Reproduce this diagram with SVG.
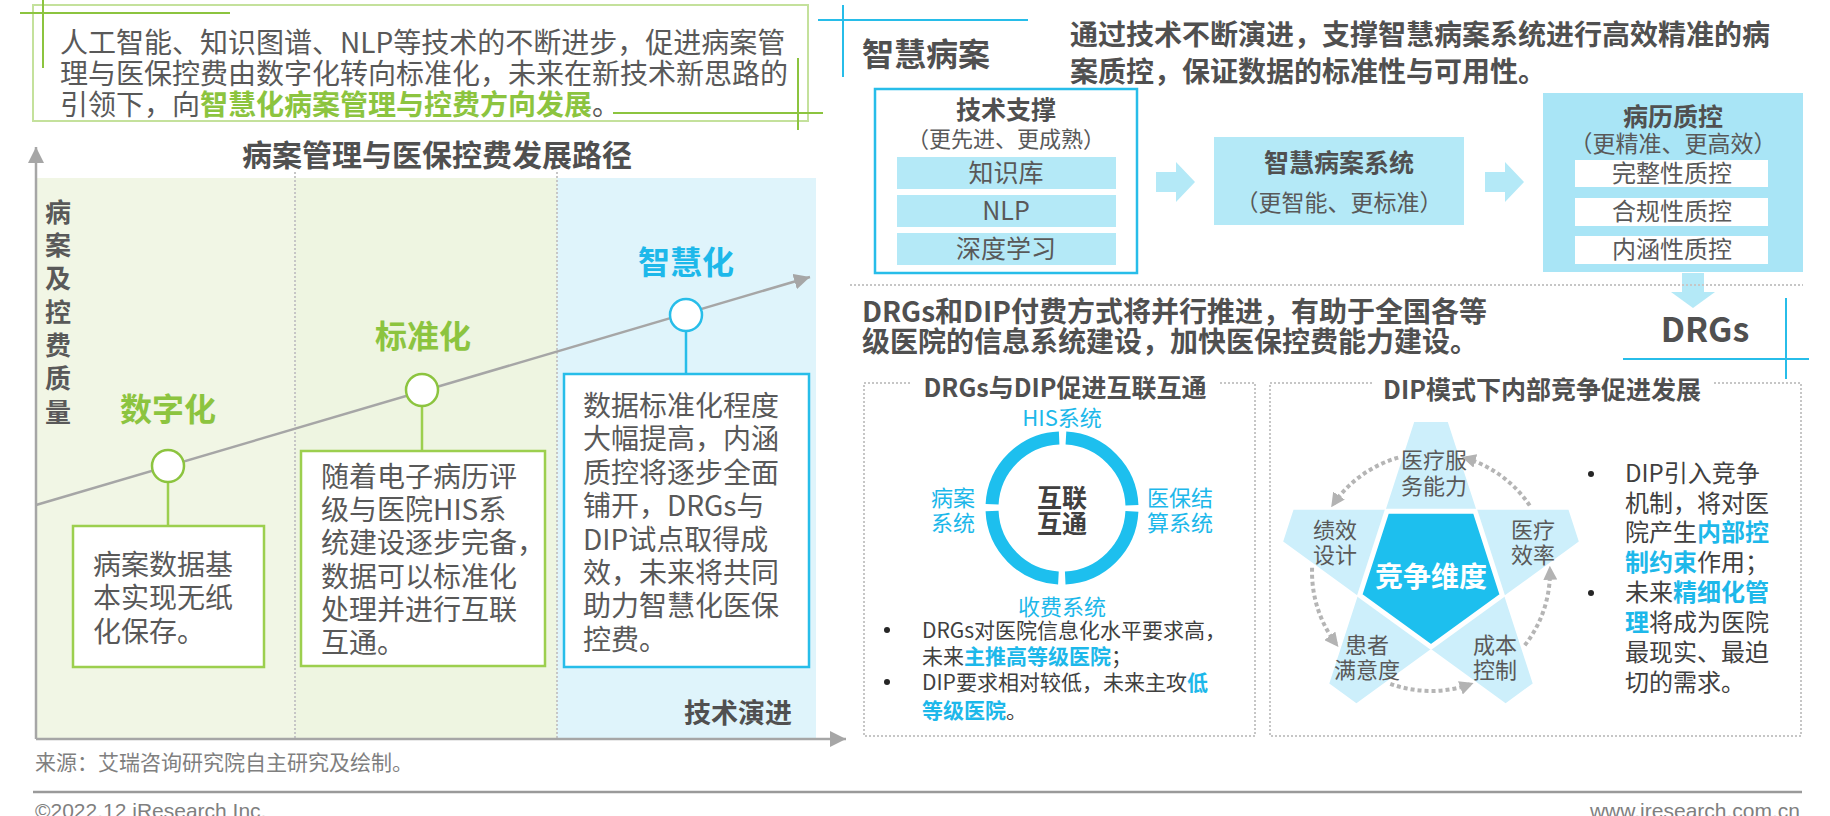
<svg xmlns="http://www.w3.org/2000/svg" width="1830" height="816" viewBox="0 0 1830 816">
<style>
text{font-family:"Noto Sans CJK SC","Noto Sans",sans-serif;fill:#595959}
.b{font-weight:bold}
.hd{font-weight:bold;fill:#505050}
.g{fill:#8cc43f;font-weight:bold}
.bl{fill:#1db8ea}
.blb{fill:#1db8ea;font-weight:bold}
.m{text-anchor:middle}
.dk{fill:#404040}
.gbox{fill:#fff;stroke:#9ccf4e;stroke-width:2.5}
.bbox{fill:#fff;stroke:#27bde9;stroke-width:2.5}
.gline{stroke:#9ccf4e;stroke-width:2.5}
.bline{stroke:#27bde9;stroke-width:2.5}
.lf{fill:#b4e9f7}
.dot{fill:none;stroke:#c6c6c6;stroke-width:2;stroke-dasharray:2 2}
.ax{stroke:#a6a6a6;stroke-width:2.5;fill:none}
.arc{fill:none;stroke:#b5b5b5;stroke-width:4;stroke-dasharray:4 3}
.bul{fill:#262626}
</style>
<defs>
<marker id="ah" viewBox="0 0 16 16" refX="16" refY="8" markerWidth="16" markerHeight="16" markerUnits="userSpaceOnUse" orient="auto"><path d="M0,0L16,8L0,16z" fill="#a6a6a6"/></marker>
<marker id="ad" viewBox="0 0 14 14" refX="12" refY="7" markerWidth="14" markerHeight="14" markerUnits="userSpaceOnUse" orient="auto"><path d="M0,0L14,7L0,14z" fill="#b3b3b3"/></marker>
</defs>
<rect width="1830" height="816" fill="#fff"/>

<!-- intro box -->
<g id="intro">
<rect x="33" y="5" width="775" height="116" fill="#fff" stroke="#c4e19c" stroke-width="2"/>
<line x1="20" y1="13" x2="230" y2="13" stroke="#8cc43f" stroke-width="2"/>
<line x1="43" y1="0" x2="43" y2="68" stroke="#8cc43f" stroke-width="2"/>
<line x1="613" y1="113" x2="823" y2="113" stroke="#8cc43f" stroke-width="2"/>
<line x1="798" y1="58" x2="798" y2="130" stroke="#8cc43f" stroke-width="2"/>
<text x="60" y="53" font-size="28">人工智能、知识图谱、NLP等技术的不断进步，促进病案管</text>
<text x="60" y="84" font-size="28">理与医保控费由数字化转向标准化，未来在新技术新思路的</text>
<text x="60" y="115" font-size="28">引领下，向<tspan class="g">智慧化病案管理与控费方向发展</tspan>。</text>
</g>

<!-- chart background -->
<g id="chart-bg">
<rect x="36" y="178" width="259" height="561" fill="#f1f6e5"/>
<rect x="295" y="178" width="262" height="561" fill="#eef5e1"/>
<rect x="557" y="178" width="259" height="561" fill="#dff4fb"/>
<line x1="295" y1="172" x2="295" y2="739" class="dot"/>
<line x1="557" y1="172" x2="557" y2="739" class="dot"/>
<text x="437" y="166" font-size="30" class="hd m">病案管理与医保控费发展路径</text>
<g class="hd m" font-size="26">
<text x="58" y="222">病</text><text x="58" y="255">案</text><text x="58" y="288">及</text><text x="58" y="322">控</text><text x="58" y="355">费</text><text x="58" y="388">质</text><text x="58" y="422">量</text>
</g>
<text x="792" y="723" font-size="27" class="hd" text-anchor="end">技术演进</text>
</g>

<!-- connectors -->
<g id="connectors">
<line x1="36" y1="739" x2="36" y2="147" class="ax" marker-end="url(#ah)"/>
<line x1="36" y1="739" x2="846" y2="739" class="ax" marker-end="url(#ah)"/>
<line x1="36" y1="505" x2="810" y2="277" class="ax" marker-end="url(#ah)"/>
<line x1="168" y1="482" x2="168" y2="526" class="gline"/>
<line x1="422" y1="406" x2="422" y2="451" class="gline"/>
<line x1="686" y1="331" x2="686" y2="374" class="bline"/>
</g>

<g id="node-digital">
<circle cx="168" cy="466" r="16" fill="#fff" stroke="#8cc43f" stroke-width="2.5"/>
<text x="168" y="421" font-size="32" class="g m">数字化</text>
<rect x="73" y="526" width="191" height="141" class="gbox"/>
<g font-size="28"><text x="93" y="575">病案数据基</text><text x="93" y="608">本实现无纸</text><text x="93" y="642">化保存。</text></g>
</g>

<g id="node-standard">
<circle cx="422" cy="390" r="16" fill="#fff" stroke="#8cc43f" stroke-width="2.5"/>
<text x="423" y="348" font-size="32" class="g m">标准化</text>
<rect x="301" y="451" width="244" height="215" class="gbox"/>
<g font-size="28"><text x="321" y="487">随着电子病历评</text><text x="321" y="520">级与医院HIS系</text><text x="321" y="553">统建设逐步完备，</text><text x="321" y="587">数据可以标准化</text><text x="321" y="620">处理并进行互联</text><text x="321" y="653">互通。</text></g>
</g>

<g id="node-smart">
<circle cx="686" cy="315" r="16" fill="#fff" stroke="#27bde9" stroke-width="2.5"/>
<text x="686" y="274" font-size="32" class="blb m">智慧化</text>
<rect x="564" y="374" width="245" height="293" class="bbox"/>
<g font-size="28"><text x="583" y="416">数据标准化程度</text><text x="583" y="449">大幅提高，内涵</text><text x="583" y="483">质控将逐步全面</text><text x="583" y="516">铺开，DRGs与</text><text x="583" y="550">DIP试点取得成</text><text x="583" y="583">效，未来将共同</text><text x="583" y="616">助力智慧化医保</text><text x="583" y="650">控费。</text></g>
</g>

<!-- footer -->
<g id="footer">
<text x="35" y="770" font-size="21" style="fill:#7f7f7f">来源：艾瑞咨询研究院自主研究及绘制。</text>
<line x1="33" y1="792" x2="1802" y2="792" stroke="#9a9a9a" stroke-width="2.5"/>
<text x="35" y="818" font-size="21" style="fill:#7f7f7f;font-family:'Liberation Sans',sans-serif">©2022.12 iResearch Inc.</text>
<text x="1800" y="818" font-size="21" text-anchor="end" style="fill:#7f7f7f;font-family:'Liberation Sans',sans-serif">www.iresearch.com.cn</text>
</g>

<!-- right top -->
<g id="smart-header">
<line x1="818" y1="20" x2="1028" y2="20" stroke="#27bde9" stroke-width="2"/>
<line x1="843" y1="5" x2="843" y2="77" stroke="#27bde9" stroke-width="2"/>
<text x="862" y="66" font-size="32" class="hd">智慧病案</text>
<text x="1070" y="45" font-size="28" class="hd">通过技术不断演进，支撑智慧病案系统进行高效精准的病</text>
<text x="1070" y="82" font-size="28" class="hd">案质控，保证数据的标准性与可用性。</text>
</g>

<g id="tech-support">
<rect x="875" y="89" width="262" height="184" class="bbox" stroke-width="2"/>
<text x="1006" y="119" font-size="25" class="hd m">技术支撑</text>
<text x="1006" y="147" font-size="22" class="m">（更先进、更成熟）</text>
<rect x="897" y="157" width="219" height="32" class="lf"/>
<rect x="897" y="195" width="219" height="32" class="lf"/>
<rect x="897" y="233" width="219" height="32" class="lf"/>
<g font-size="25"><text x="1006" y="182" class="m">知识库</text><text x="1006" y="220" class="m">NLP</text><text x="1006" y="258" class="m">深度学习</text></g>
</g>

<g id="flow-arrows">
<polygon points="1156,172 1176,172 1176,162 1195,182 1176,202 1176,192 1156,192" class="lf"/>
<polygon points="1485,172 1505,172 1505,162 1524,182 1505,202 1505,192 1485,192" class="lf"/>
<polygon points="1682,273 1704,273 1704,292 1715,292 1693,308 1671,292 1682,292" class="lf"/>
</g>

<g id="smart-system">
<rect x="1214" y="137" width="250" height="88" class="lf"/>
<text x="1339" y="172" font-size="25" class="hd m">智慧病案系统</text>
<text x="1339" y="211" font-size="23" class="m">（更智能、更标准）</text>
</g>

<g id="qc">
<rect x="1543" y="93" width="260" height="179" fill="#a9e5f6"/>
<text x="1673" y="126" font-size="25" class="hd m">病历质控</text>
<text x="1673" y="152" font-size="23" class="m">（更精准、更高效）</text>
<rect x="1575" y="160" width="193" height="27" fill="#fff"/>
<rect x="1575" y="198" width="193" height="28" fill="#fff"/>
<rect x="1575" y="236" width="193" height="28" fill="#fff"/>
<g font-size="24"><text x="1672" y="182" class="m">完整性质控</text><text x="1672" y="220" class="m">合规性质控</text><text x="1672" y="258" class="m">内涵性质控</text></g>
</g>

<line x1="850" y1="285" x2="1803" y2="285" class="dot"/>

<g id="drgs">
<text x="862" y="322" font-size="28" class="hd">DRGs和DIP付费方式将并行推进，有助于全国各等</text>
<text x="862" y="352" font-size="28" class="hd">级医院的信息系统建设，加快医保控费能力建设。</text>
<text x="1705" y="342" font-size="34" class="hd m">DRGs</text>
<line x1="1786" y1="298" x2="1786" y2="379" stroke="#27bde9" stroke-width="2"/>
<line x1="1623" y1="359" x2="1809" y2="359" stroke="#27bde9" stroke-width="2"/>
</g>

<!-- panel 1 -->
<g id="panel-interconnect">
<rect x="864" y="383" width="391" height="353" class="dot"/>
<rect x="910" y="372" width="310" height="26" fill="#fff"/>
<text x="1065" y="397" font-size="25" class="hd m">DRGs与DIP促进互联互通</text>
<circle cx="1062" cy="508" r="70" fill="none" stroke="#1dbfee" stroke-width="13" stroke-dasharray="103 6.96" stroke-dashoffset="-3.48"/>
<g font-size="22">
<text x="1062" y="426" class="bl m">HIS系统</text>
<text x="953" y="506" class="bl m">病案</text><text x="953" y="531" class="bl m">系统</text>
<text x="1180" y="506" class="bl m">医保结</text><text x="1180" y="531" class="bl m">算系统</text>
<text x="1062" y="615" class="bl m">收费系统</text>
</g>
<text x="1062" y="507" font-size="25" class="hd m" style="fill:#404040">互联</text>
<text x="1062" y="533" font-size="25" class="hd m" style="fill:#404040">互通</text>
<circle cx="887" cy="630" r="3" class="bul"/>
<circle cx="887" cy="682" r="3" class="bul"/>
<g font-size="21">
<text x="922" y="638" class="dk">DRGs对医院信息化水平要求高，</text>
<text x="922" y="664" class="dk">未来<tspan class="blb">主推高等级医院</tspan>；</text>
<text x="922" y="690" class="dk">DIP要求相对较低，未来主攻<tspan class="blb">低</tspan></text>
<text x="922" y="718" class="dk"><tspan class="blb">等级医院</tspan>。</text>
</g>
</g>

<!-- panel 2 -->
<g id="panel-competition">
<rect x="1270" y="383" width="531" height="353" class="dot"/>
<rect x="1372" y="372" width="340" height="26" fill="#fff"/>
<text x="1542" y="399" font-size="25" class="hd m">DIP模式下内部竞争促进发展</text>
<polygon points="1414.2,422 1447.8,422 1476.3,509.7 1568.5,509.7 1578.8,541.6 1504.2,595.8 1532.7,683.5 1505.6,703.2 1431,649 1356.4,703.2 1329.3,683.5 1357.8,595.8 1283.2,541.6 1293.5,509.7 1385.7,509.7" fill="#cdeffb"/>
<polygon points="1475.1,511.3 1502.3,595.2 1431,647 1359.7,595.2 1386.9,511.3" fill="#1dbfee" stroke="#fff" stroke-width="5" stroke-linejoin="miter"/>
<text x="1431" y="587" font-size="28" class="b m" style="fill:#fff">竞争维度</text>
<g font-size="22">
<text x="1434" y="468" class="m">医疗服</text><text x="1434" y="494" class="m">务能力</text>
<text x="1335" y="538" class="m">绩效</text><text x="1335" y="563" class="m">设计</text>
<text x="1533" y="538" class="m">医疗</text><text x="1533" y="563" class="m">效率</text>
<text x="1367" y="653" class="m">患者</text><text x="1367" y="678" class="m">满意度</text>
<text x="1495" y="653" class="m">成本</text><text x="1495" y="678" class="m">控制</text>
</g>
<path d="M1529.7,505.5 A119,119 0 0 0 1463.8,457.6" class="arc" marker-end="url(#ad)"/>
<path d="M1524.8,645.3 A119,119 0 0 0 1549.9,567.8" class="arc" marker-end="url(#ad)"/>
<path d="M1390.3,683.8 A119,119 0 0 0 1471.7,683.8" class="arc" marker-end="url(#ad)"/>
<path d="M1312.1,567.8 A119,119 0 0 0 1337.2,645.3" class="arc" marker-end="url(#ad)"/>
<path d="M1398.2,457.6 A119,119 0 0 0 1332.3,505.5" class="arc" marker-end="url(#ad)"/>
<circle cx="1591" cy="474" r="3" class="bul"/>
<circle cx="1591" cy="593" r="3" class="bul"/>
<g font-size="24">
<text x="1625" y="482" class="dk">DIP引入竞争</text>
<text x="1625" y="512" class="dk">机制，将对医</text>
<text x="1625" y="541" class="dk">院产生<tspan class="blb">内部控</tspan></text>
<text x="1625" y="571" class="dk"><tspan class="blb">制约束</tspan>作用；</text>
<text x="1625" y="601" class="dk">未来<tspan class="blb">精细化管</tspan></text>
<text x="1625" y="631" class="dk"><tspan class="blb">理</tspan>将成为医院</text>
<text x="1625" y="661" class="dk">最现实、最迫</text>
<text x="1625" y="691" class="dk">切的需求。</text>
</g>
</g>
</svg>
